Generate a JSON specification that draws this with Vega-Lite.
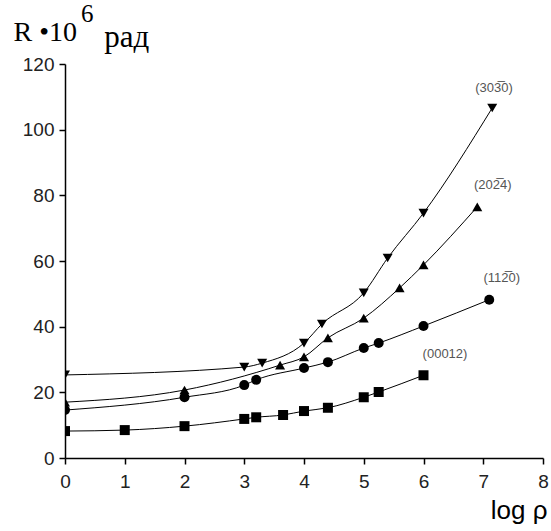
{
  "$schema": "https://vega.github.io/schema/vega-lite/v6.json",
  "width": 478,
  "height": 394,
  "autosize": "none",
  "padding": {"left": 65, "top": 64, "right": 8, "bottom": 73},
  "background": "white",
  "title": {
    "text": "6",
    "subtitle": "\u200b\u2002\u2005рад",
    "anchor": "start",
    "frame": "group",
    "dx": 16,
    "dy": 45,
    "offset": 10,
    "font": "Liberation Serif",
    "fontSize": 25,
    "fontWeight": "normal",
    "color": "#000",
    "subtitleFont": "Liberation Serif",
    "subtitleFontSize": 31,
    "subtitleColor": "#000",
    "subtitlePadding": -4
  },
  "config": {"view": {"stroke": null}},
  "datasets": {
    "series": [
      {"series": "(00012)", "x": 0, "y": 8.2},
      {"series": "(00012)", "x": 1, "y": 8.5},
      {"series": "(00012)", "x": 2, "y": 9.7},
      {"series": "(00012)", "x": 3, "y": 11.9},
      {"series": "(00012)", "x": 3.2, "y": 12.4},
      {"series": "(00012)", "x": 3.65, "y": 13.1},
      {"series": "(00012)", "x": 4, "y": 14.3},
      {"series": "(00012)", "x": 4.4, "y": 15.3},
      {"series": "(00012)", "x": 5, "y": 18.5},
      {"series": "(00012)", "x": 5.25, "y": 20.1},
      {"series": "(00012)", "x": 6, "y": 25.2},
      {"series": "(1120)", "x": 0, "y": 14.6},
      {"series": "(1120)", "x": 2, "y": 18.5},
      {"series": "(1120)", "x": 3, "y": 22.2},
      {"series": "(1120)", "x": 3.2, "y": 23.8},
      {"series": "(1120)", "x": 4, "y": 27.4},
      {"series": "(1120)", "x": 4.4, "y": 29.2},
      {"series": "(1120)", "x": 5, "y": 33.5},
      {"series": "(1120)", "x": 5.25, "y": 35.0},
      {"series": "(1120)", "x": 6, "y": 40.2},
      {"series": "(1120)", "x": 7.1, "y": 48.2},
      {"series": "(2024)", "x": 0, "y": 17.0},
      {"series": "(2024)", "x": 2, "y": 20.7},
      {"series": "(2024)", "x": 3.6, "y": 28.3},
      {"series": "(2024)", "x": 4, "y": 30.8},
      {"series": "(2024)", "x": 4.4, "y": 36.6},
      {"series": "(2024)", "x": 5, "y": 42.6},
      {"series": "(2024)", "x": 5.6, "y": 51.8},
      {"series": "(2024)", "x": 6, "y": 58.8},
      {"series": "(2024)", "x": 6.9, "y": 76.5},
      {"series": "(3030)", "x": 0, "y": 25.3},
      {"series": "(3030)", "x": 3, "y": 27.7},
      {"series": "(3030)", "x": 3.3, "y": 28.9},
      {"series": "(3030)", "x": 4, "y": 35.0},
      {"series": "(3030)", "x": 4.3, "y": 40.8},
      {"series": "(3030)", "x": 5, "y": 50.3},
      {"series": "(3030)", "x": 5.4, "y": 60.9},
      {"series": "(3030)", "x": 6, "y": 74.6},
      {"series": "(3030)", "x": 7.15, "y": 106.6}
    ],
    "labels": [
      {"label": "(303\u03050)", "x": 7.18, "y": 112.7},
      {"label": "(202\u03054)", "x": 7.16, "y": 83.2},
      {"label": "(112\u03050)", "x": 7.31, "y": 54.8},
      {"label": "(00012)", "x": 6.36, "y": 31.7}
    ]
  },
  "layer": [
    {
      "data": {"name": "series"},
      "mark": {"type": "line", "color": "black", "strokeWidth": 1, "interpolate": "monotone", "clip": true},
      "encoding": {
        "x": {
          "field": "x", "type": "quantitative",
          "scale": {"domain": [0, 8], "nice": false, "zero": false},
          "axis": {
            "values": [0, 1, 2, 3, 4, 5, 6, 7, 8],
            "format": "d",
            "title": "log ρ",
            "grid": false,
            "tickSize": 6,
            "tickWidth": 1.5,
            "tickColor": "black",
            "domainColor": "black",
            "domainWidth": 1.5,
            "labelFont": "Liberation Sans",
            "labelFontSize": 19,
            "labelColor": "#222",
            "labelPadding": 8,
            "labelFlush": false,
            "titleFont": "Liberation Sans",
            "titleFontSize": 26,
            "titleFontWeight": "normal",
            "titleColor": "#000",
            "titleAlign": "right",
            "titleAnchor": "end",
            "titleX": 482,
            "titleY": 60,
            "titleBaseline": "alphabetic"
          }
        },
        "y": {
          "field": "y", "type": "quantitative",
          "scale": {"domain": [0, 120], "nice": false},
          "axis": {
            "values": [0, 10, 20, 30, 40, 50, 60, 70, 80, 90, 100, 110, 120],
            "labelExpr": "datum.value % 20 === 0 ? datum.label : ''",
            "tickSize": {"condition": {"test": "datum.value % 20 === 0", "value": 6}, "value": 3},
            "grid": false,
            "tickWidth": 1.5,
            "tickColor": "black",
            "domainColor": "black",
            "domainWidth": 1.5,
            "labelFont": "Liberation Sans",
            "labelFontSize": 19,
            "labelColor": "#222",
            "labelPadding": 5,
            "labelFlush": false,
            "title": "R •10",
            "titleAngle": 0,
            "titleAlign": "left",
            "titleBaseline": "alphabetic",
            "titleX": -52,
            "titleY": -24,
            "titleFont": "Liberation Serif",
            "titleFontSize": 28,
            "titleFontWeight": "normal",
            "titleColor": "#000"
          }
        },
        "detail": {"field": "series"}
      }
    },
    {
      "data": {"name": "series"},
      "mark": {"type": "point", "filled": true, "color": "black", "opacity": 1, "clip": true},
      "encoding": {
        "x": {"field": "x", "type": "quantitative"},
        "y": {"field": "y", "type": "quantitative"},
        "shape": {
          "field": "series", "type": "nominal",
          "scale": {"domain": ["(00012)", "(1120)", "(2024)", "(3030)"], "range": ["square", "circle", "triangle-up", "triangle-down"]},
          "legend": null
        },
        "size": {
          "field": "series", "type": "nominal",
          "scale": {"domain": ["(00012)", "(1120)", "(2024)", "(3030)"], "range": [100, 100, 195, 195]},
          "legend": null
        }
      }
    },
    {
      "data": {"name": "labels"},
      "mark": {"type": "text", "font": "Liberation Sans", "fontSize": 13, "color": "#555", "align": "center", "baseline": "middle"},
      "encoding": {
        "x": {"field": "x", "type": "quantitative"},
        "y": {"field": "y", "type": "quantitative"},
        "text": {"field": "label"}
      }
    }
  ]
}
